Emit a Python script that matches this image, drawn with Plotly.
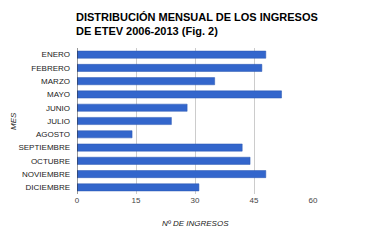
import plotly.graph_objects as go

months = ["ENERO", "FEBRERO", "MARZO", "MAYO", "JUNIO", "JULIO", "AGOSTO",
          "SEPTIEMBRE", "OCTUBRE", "NOVIEMBRE", "DICIEMBRE"]
ingresos = [48, 47, 35, 52, 28, 24, 14, 42, 44, 48, 31]
x_ticks = [0, 15, 30, 45, 60]

FONT = "Arial, Liberation Sans, sans-serif"

fig = go.Figure(go.Bar(
    x=ingresos, y=months, orientation="h",
    marker=dict(color="#3366cc", line=dict(color="#2b57b0", width=0.5)),
))

fig.update_layout(
    width=388, height=242,
    margin=dict(l=77, r=75, t=48, b=48),
    paper_bgcolor="white", plot_bgcolor="white",
    bargap=0.46,
    showlegend=False,
    font=dict(family=FONT, size=8, color="#444444"),
    title=dict(
        text="<b>DISTRIBUCIÓN MENSUAL DE LOS INGRESOS<br>DE ETEV 2006-2013 (Fig. 2)</b>",
        x=76 / 388, xanchor="left", y=1 - 21 / 242, yanchor="top",
        font=dict(family=FONT, size=11, color="#000000"),
    ),
    xaxis=dict(
        range=[0, 60], tickvals=x_ticks, ticktext=[str(v) for v in x_ticks],
        showgrid=True, gridcolor="#cccccc", gridwidth=1,
        zeroline=False, showline=False, ticks="",
        tickfont=dict(size=8, color="#444444"),
        fixedrange=True,
    ),
    yaxis=dict(
        autorange="reversed", showgrid=False, zeroline=False,
        showline=False, ticks="", ticklabelstandoff=6,
        tickfont=dict(size=8, color="#222222"),
    ),
    shapes=[dict(type="line", xref="x", yref="paper", x0=0, x1=0, y0=0, y1=1,
                 line=dict(color="#333333", width=1))],
    annotations=[
        dict(text="<i>Nº DE INGRESOS</i>", xref="paper", yref="paper",
             x=0.5, y=-0.2, xanchor="center", yanchor="middle",
             showarrow=False, font=dict(family=FONT, size=8, color="#222222")),
        dict(text="<i>MES</i>", xref="paper", yref="paper",
             x=-(76 - 12) / 236, y=0.5, xanchor="center", yanchor="middle",
             textangle=-90, showarrow=False,
             font=dict(family=FONT, size=8, color="#222222")),
    ],
)

fig.write_html(
    "out.html",
    config={"displayModeBar": False},
    post_script="document.body.style.margin='0';document.body.style.overflow='hidden';",
)
